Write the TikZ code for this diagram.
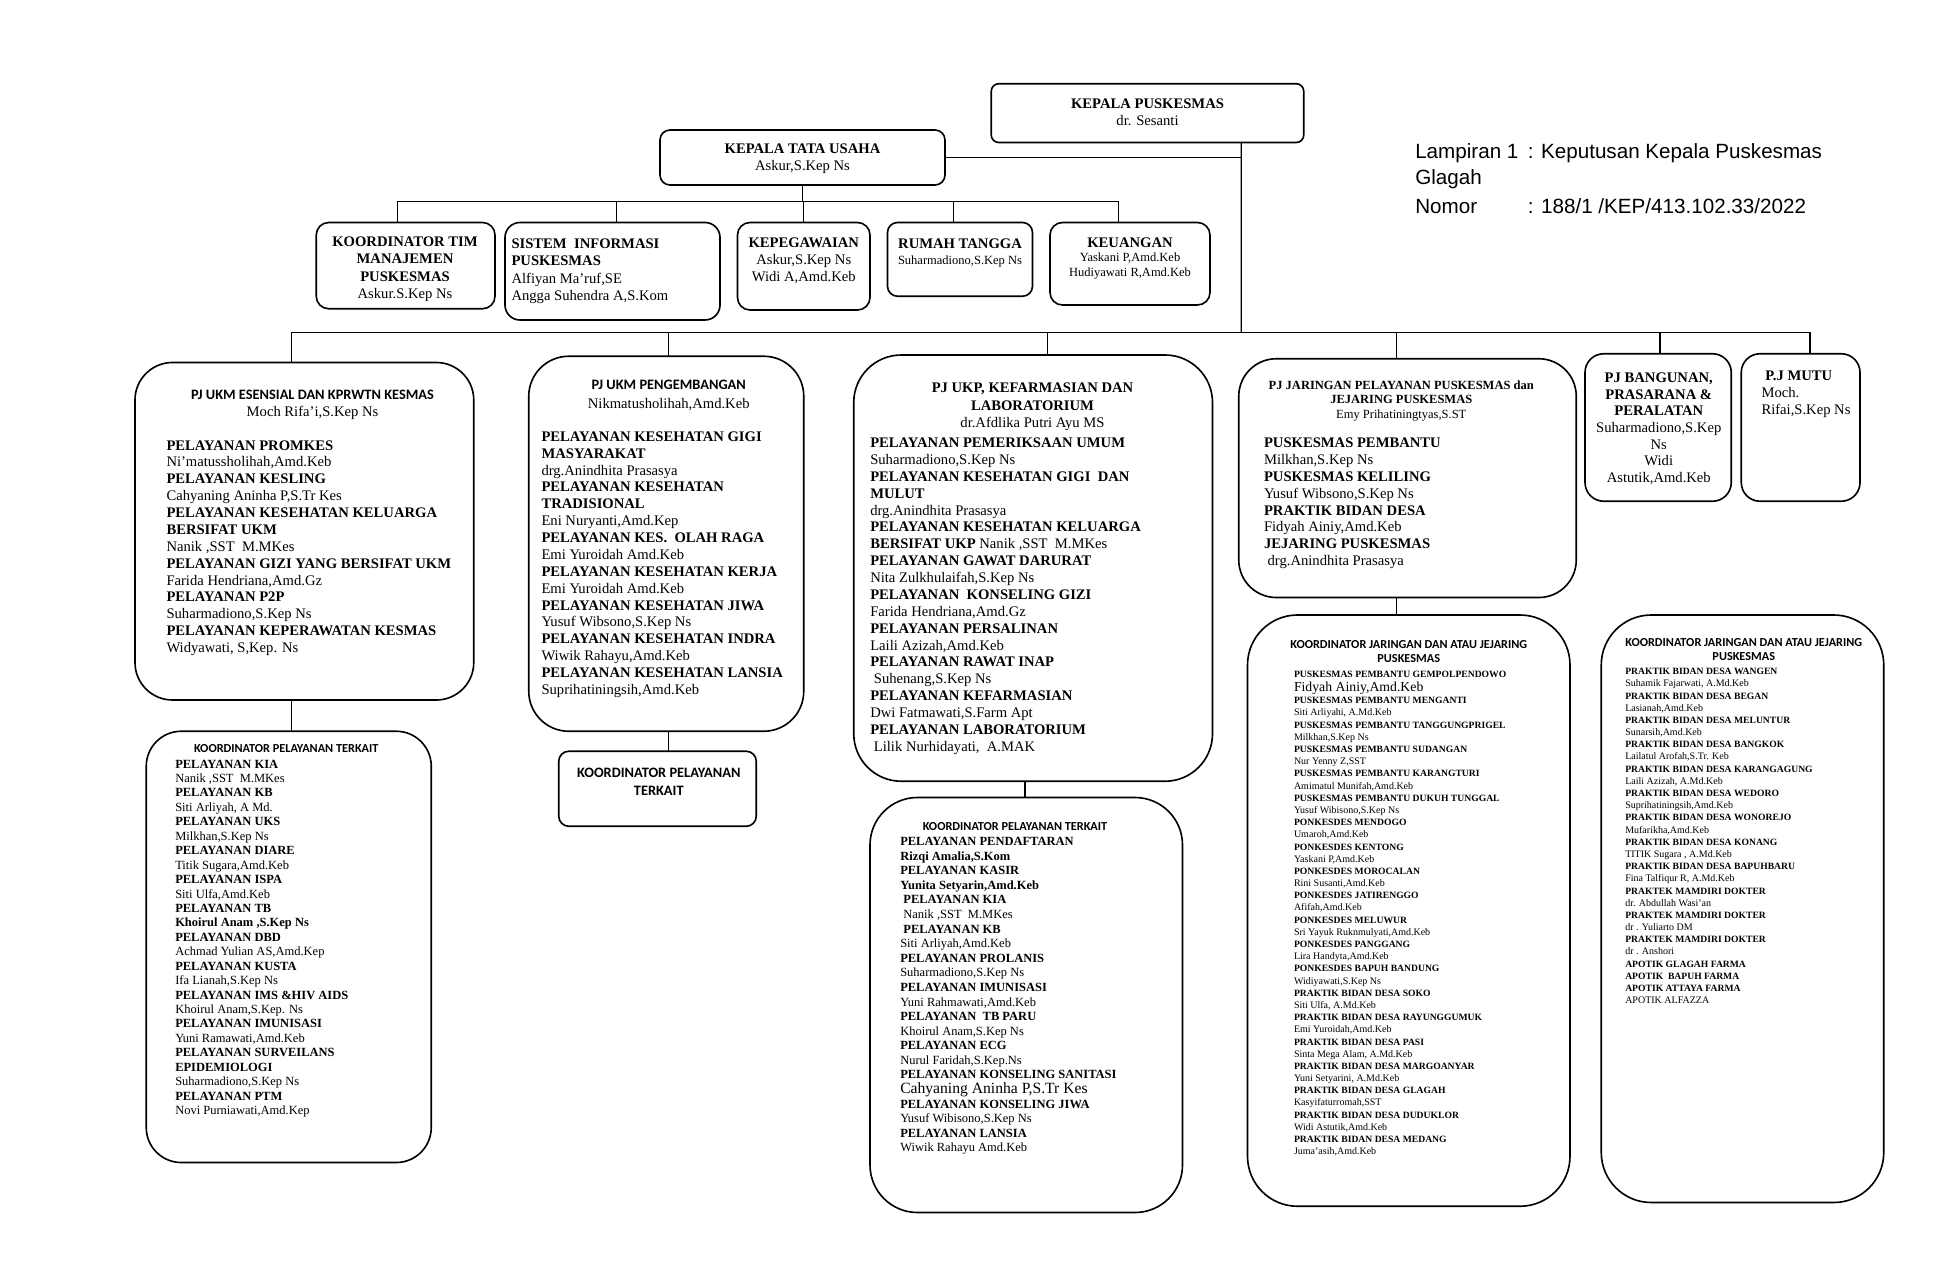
\documentclass[tikz,border=0pt]{standalone}
\usepackage{fontspec}
\setmainfont{Liberation Serif}
\newfontfamily\carlfont{Carlito}
\newfontfamily\lsansfont{Liberation Sans}
\usetikzlibrary{calc}
\newcommand{\hb}[1]{\textbf{#1}}
\newcommand{\sbf}[1]{{\fontsize{7.7}{9.75}\selectfont\bfseries #1}}
\begin{document}
\begin{tikzpicture}[x=1pt,y=-1pt,
 box/.style={draw, line width=1.3pt, rounded corners=#1, anchor=north west, inner sep=0pt, outer sep=0pt},
 box/.default=8pt,
 ln/.style={line width=1pt},
 txl/.style={inner sep=0pt, anchor=north west, align=left},
 txc/.style={inner sep=0pt, anchor=north, align=center},
 fbig/.style={font=\fontsize{11.7}{13.5}\selectfont},
 fmid/.style={font=\fontsize{10}{11.6}\selectfont},
 fsml/.style={font=\fontsize{8}{9.75}\selectfont},
 hdr/.style={inner sep=0pt, anchor=center, align=center, font=\carlfont\bfseries\fontsize{#1}{13}\selectfont},
 lamp/.style={inner sep=0pt, anchor=base west, font=\lsansfont\fontsize{16.5}{20}\selectfont}
]
\fill[white] (0,0) rectangle (1560,1016);
\useasboundingbox (0,0) rectangle (1560,1016);

% ---------- boxes ----------
\node[box=6pt, minimum width=250pt, minimum height=47pt] (KP) at (793,67) {};
\node[box=8pt, minimum width=228pt, minimum height=44pt] (KTU) at (528,104) {};
\node[box=10pt, minimum width=143pt, minimum height=69pt] (KT) at (253,178) {};
\node[box=12pt, minimum width=172pt, minimum height=78pt] (SI) at (404,178) {};
\node[box=10pt, minimum width=106pt, minimum height=70pt] (KPG) at (590,178) {};
\node[box=8pt, minimum width=116pt, minimum height=59pt] (RT) at (710,178) {};
\node[box=10pt, minimum width=128pt, minimum height=66pt] (KEU) at (840,178) {};

\node[box=30pt, minimum width=271pt, minimum height=270pt] (A) at (108,290) {};
\node[box=28pt, minimum width=228pt, minimum height=345pt] (A2) at (117,585) {};
\node[box=32pt, minimum width=220pt, minimum height=300pt] (B) at (423,285) {};
\node[box=8pt, minimum width=158pt, minimum height=60pt] (B2) at (447,601) {};
\node[box=38pt, minimum width=287pt, minimum height=341pt] (C) at (683,284) {};
\node[box=38pt, minimum width=250pt, minimum height=332pt] (C2) at (696,638) {};
\node[box=30pt, minimum width=270pt, minimum height=191pt] (D) at (991,287) {};
\node[box=40pt, minimum width=258pt, minimum height=473pt] (D2) at (998,492) {};
\node[box=15pt, minimum width=117pt, minimum height=118pt] (E) at (1268,283) {};
\node[box=15pt, minimum width=95pt, minimum height=118pt] (F) at (1393,283) {};
\node[box=40pt, minimum width=226pt, minimum height=470pt] (G) at (1281,492) {};

% ---------- connectors ----------
\coordinate (tr) at ($(KP.south west)!0.8!(KP.south east)$);
\coordinate (mb) at (993,266);
\draw[ln] (tr) -- (mb);
\draw[ln] (KTU.east) -- (KTU.east -| tr);
\coordinate (sb) at (642,161);
\draw[ln] (KTU.south) -- (sb);
\coordinate (dKT) at (318,161);
\coordinate (dSI) at (493,161);
\coordinate (dKPG) at (643,161);
\coordinate (dRT) at (763,161);
\coordinate (dKEU) at (895,161);
\draw[ln] (dKT) -- (dKEU);
\draw[ln] (dKT) -- (dKT |- KT.north);
\draw[ln] (dSI) -- (dSI |- SI.north);
\draw[ln] (dKPG) -- (dKPG |- KPG.north);
\draw[ln] (dRT) -- (dRT |- RT.north);
\draw[ln] (dKEU) -- (dKEU |- KEU.north);

\coordinate (dA) at (233,266);
\coordinate (dB) at (535,266);
\coordinate (dC) at (838,266);
\coordinate (dD) at (1117,266);
\coordinate (dE) at (1328,266);
\coordinate (dF) at (1448,266);
\draw[ln] (dA) -- (dF);
\draw[ln] (dA) -- (dA |- A.north);
\draw[ln] (dB) -- (dB |- B.north);
\draw[ln] (dC) -- (dC |- C.north);
\draw[ln] (dD) -- (dD |- D.north);
\draw[ln] (dE) -- (dE |- E.north);
\draw[ln] (dF) -- (dF |- F.north);
\draw[ln] (dA |- A.south) -- (dA |- A2.north);
\draw[ln] (dB |- B.south) -- (dB |- B2.north);
\coordinate (dC2) at (820,625);
\draw[ln] (dC2) -- (dC2 |- C2.north);
\draw[ln] (dD |- D.south) -- (dD |- D2.north);

% ---------- top texts ----------
\node[txc, font=\fontsize{11.7}{13}\selectfont] (tKP) at (918,77.8) {\strut\hb{KEPALA PUSKESMAS}\\dr. Sesanti};
\node[txc, font=\fontsize{11.7}{13}\selectfont] (tKTU) at (642,113.8) {\strut\hb{KEPALA TATA USAHA}\\Askur,S.Kep Ns};
\node[txc, font=\fontsize{11.7}{14}\selectfont] (tKT) at (324,187.1) {\strut\hb{KOORDINATOR TIM}\\\hb{MANAJEMEN}\\\hb{PUSKESMAS}\\Askur.S.Kep Ns};
\node[txl, font=\fontsize{11.7}{13.7}\selectfont] (tSI) at (409,189.3) {\strut\hb{SISTEM\ \ INFORMASI}\\\hb{PUSKESMAS}\\Alfiyan Ma’ruf,SE\\Angga Suhendra A,S.Kom};
\node[txc, fbig] (tKPG) at (643,188.3) {\strut\hb{KEPEGAWAIAN}\\Askur,S.Kep Ns\\Widi A,Amd.Keb};
\node[txc, fbig] (tRT) at (768,189.4) {\strut\hb{RUMAH TANGGA}};
\node[txc, font=\fontsize{10}{12}\selectfont] (tRT2) at (768,202.9) {\strut Suharmadiono,S.Kep Ns};
\node[txc, fbig] (tKEU) at (904,188.4) {\strut\hb{KEUANGAN}};
\node[txc, font=\fontsize{10}{12}\selectfont] (tKEU2) at (904,200.9) {\strut Yaskani P,Amd.Keb\\Hudiyawati R,Amd.Keb};

\node[lamp] (L1) at (1132,126.9) {Lampiran 1};
\node[lamp] (L1b) at (1222,126.9) {: Keputusan Kepala Puskesmas};
\node[lamp] (L2) at (1132,147.9) {Glagah};
\node[lamp] (L3) at (1132,170.9) {Nomor};
\node[lamp] (L3b) at (1222,170.9) {: 188/1 /KEP/413.102.33/2022};

% ---------- box A ----------
\node[hdr=11.5] (hA) at (250,316) {PJ UKM ESENSIAL DAN KPRWTN KESMAS};
\node[txc, fbig] (nA) at (250,323.4) {\strut Moch Rifa’i,S.Kep Ns};
\node[txl, fbig] (lA) at (133,350.4) {\strut\hb{PELAYANAN PROMKES}\\
Ni’matussholihah,Amd.Keb\\
\hb{PELAYANAN KESLING}\\
Cahyaning Aninha P,S.Tr Kes\\
\hb{PELAYANAN KESEHATAN KELUARGA}\\
\hb{BERSIFAT UKM}\\
Nanik ,SST\ \ M.MKes\\
\hb{PELAYANAN GIZI YANG BERSIFAT UKM}\\
Farida Hendriana,Amd.Gz\\
\hb{PELAYANAN P2P}\\
Suharmadiono,S.Kep Ns\\
\hb{PELAYANAN KEPERAWATAN KESMAS}\\
Widyawati, S,Kep. Ns};

% ---------- box A2 ----------
\node[hdr=9.8] (hA2) at (229,599) {KOORDINATOR PELAYANAN TERKAIT};
\node[txl, font=\fontsize{10}{11.55}\selectfont] (lA2) at (140,606.2) {\strut\hb{PELAYANAN KIA}\\
Nanik ,SST\ \ M.MKes\\
\hb{PELAYANAN KB}\\
Siti Arliyah, A Md.\\
\hb{PELAYANAN UKS}\\
Milkhan,S.Kep Ns\\
\hb{PELAYANAN DIARE}\\
Titik Sugara,Amd.Keb\\
\hb{PELAYANAN ISPA}\\
Siti Ulfa,Amd.Keb\\
\hb{PELAYANAN TB}\\
\hb{Khoirul Anam ,S.Kep Ns}\\
\hb{PELAYANAN DBD}\\
Achmad Yulian AS,Amd.Kep\\
\hb{PELAYANAN KUSTA}\\
Ifa Lianah,S.Kep Ns\\
\hb{PELAYANAN IMS \&HIV AIDS}\\
Khoirul Anam,S.Kep. Ns\\
\hb{PELAYANAN IMUNISASI}\\
Yuni Ramawati,Amd.Keb\\
\hb{PELAYANAN SURVEILANS}\\
\hb{EPIDEMIOLOGI}\\
Suharmadiono,S.Kep Ns\\
\hb{PELAYANAN PTM}\\
Novi Purniawati,Amd.Kep};

% ---------- box B ----------
\node[hdr=11.5] (hB) at (535,308) {PJ UKM PENGEMBANGAN};
\node[txc, fbig] (nB) at (535,317.4) {\strut Nikmatusholihah,Amd.Keb};
\node[txl, fbig] (lB) at (433,343.4) {\strut\hb{PELAYANAN KESEHATAN GIGI}\\
\hb{MASYARAKAT}\\
drg.Anindhita Prasasya\\
\hb{PELAYANAN KESEHATAN}\\
\hb{TRADISIONAL}\\
Eni Nuryanti,Amd.Kep\\
\hb{PELAYANAN KES.\ \ OLAH RAGA}\\
Emi Yuroidah Amd.Keb\\
\hb{PELAYANAN KESEHATAN KERJA}\\
Emi Yuroidah Amd.Keb\\
\hb{PELAYANAN KESEHATAN JIWA}\\
Yusuf Wibsono,S.Kep Ns\\
\hb{PELAYANAN KESEHATAN INDRA}\\
Wiwik Rahayu,Amd.Keb\\
\hb{PELAYANAN KESEHATAN LANSIA}\\
Suprihatiningsih,Amd.Keb};
\node[inner sep=0pt, align=center, font=\carlfont\bfseries\fontsize{11.5}{15}\selectfont] (hB2) at (527,625.5) {KOORDINATOR PELAYANAN\\TERKAIT};

% ---------- box C ----------
\node[txc, font=\fontsize{11.7}{14}\selectfont] (hC) at (826,304.1) {\strut\hb{PJ UKP, KEFARMASIAN DAN}\\\hb{LABORATORIUM}\\dr.Afdlika Putri Ayu MS};
\node[txl, fbig] (lC) at (696,348.4) {\strut\hb{PELAYANAN PEMERIKSAAN UMUM}\\
Suharmadiono,S.Kep Ns\\
\hb{PELAYANAN KESEHATAN GIGI\ \ DAN}\\
\hb{MULUT}\\
drg.Anindhita Prasasya\\
\hb{PELAYANAN KESEHATAN KELUARGA}\\
\hb{BERSIFAT UKP} Nanik ,SST\ \ M.MKes\\
\hb{PELAYANAN GAWAT DARURAT}\\
Nita Zulkhulaifah,S.Kep Ns\\
\hb{PELAYANAN\ \ KONSELING GIZI}\\
Farida Hendriana,Amd.Gz\\
\hb{PELAYANAN PERSALINAN}\\
Laili Azizah,Amd.Keb\\
\hb{PELAYANAN RAWAT INAP}\\
\ Suhenang,S.Kep Ns\\
\hb{PELAYANAN KEFARMASIAN}\\
Dwi Fatmawati,S.Farm Apt\\
\hb{PELAYANAN LABORATORIUM}\\
\ Lilik Nurhidayati,\ \ A.MAK};

% ---------- box C2 ----------
\node[hdr=9.8] (hC2) at (812,661) {KOORDINATOR PELAYANAN TERKAIT};
\node[txl, font=\fontsize{10}{11.67}\selectfont] (lC2) at (720,668.1) {\strut\hb{PELAYANAN PENDAFTARAN}\\
\hb{Rizqi Amalia,S.Kom}\\
\hb{PELAYANAN KASIR}\\
\hb{Yunita Setyarin,Amd.Keb}\\
\ \hb{PELAYANAN KIA}\\
\ Nanik ,SST\ \ M.MKes\\
\ \hb{PELAYANAN KB}\\
Siti Arliyah,Amd.Keb\\
\hb{PELAYANAN PROLANIS}\\
Suharmadiono,S.Kep Ns\\
\hb{PELAYANAN IMUNISASI}\\
Yuni Rahmawati,Amd.Keb\\
\hb{PELAYANAN\ \ TB PARU}\\
Khoirul Anam,S.Kep Ns\\
\hb{PELAYANAN ECG}\\
Nurul Faridah,S.Kep.Ns\\
\hb{PELAYANAN KONSELING SANITASI}\\
{\fontsize{12.5}{11.67}\selectfont Cahyaning Aninha P,S.Tr Kes}\\
\hb{PELAYANAN KONSELING JIWA}\\
Yusuf Wibisono,S.Kep Ns\\
\hb{PELAYANAN LANSIA}\\
Wiwik Rahayu Amd.Keb};

% ---------- box D ----------
\node[txc, font=\fontsize{10}{11.7}\selectfont] (hD) at (1121,303.1) {\strut\hb{PJ JARINGAN PELAYANAN PUSKESMAS dan}\\\hb{JEJARING PUSKESMAS}\\Emy Prihatiningtyas,S.ST};
\node[txl, fbig] (lD) at (1011,348.4) {\strut\hb{PUSKESMAS PEMBANTU}\\
Milkhan,S.Kep Ns\\
\hb{PUSKESMAS KELILING}\\
Yusuf Wibsono,S.Kep Ns\\
\hb{PRAKTIK BIDAN DESA}\\
Fidyah Ainiy,Amd.Keb\\
\hb{JEJARING PUSKESMAS}\\
\ drg.Anindhita Prasasya};

% ---------- box D2 ----------
\node[inner sep=0pt, align=center, font=\carlfont\bfseries\fontsize{9.8}{11}\selectfont] (hD2) at (1127,521.5) {KOORDINATOR JARINGAN DAN ATAU JEJARING\\PUSKESMAS};
\node[txl, fsml] (lD2) at (1035,534.7) {\strut\sbf{PUSKESMAS PEMBANTU GEMPOLPENDOWO}\\
{\fontsize{11}{9.75}\selectfont Fidyah Ainiy,Amd.Keb}\\
\sbf{PUSKESMAS PEMBANTU MENGANTI}\\
Siti Arliyahi, A.Md.Keb\\
\sbf{PUSKESMAS PEMBANTU TANGGUNGPRIGEL}\\
Milkhan,S.Kep Ns\\
\sbf{PUSKESMAS PEMBANTU SUDANGAN}\\
Nur Yenny Z,SST\\
\sbf{PUSKESMAS PEMBANTU KARANGTURI}\\
Amimatul Munifah,Amd.Keb\\
\sbf{PUSKESMAS PEMBANTU DUKUH TUNGGAL}\\
Yusuf Wibisono,S.Kep Ns\\
\sbf{PONKESDES MENDOGO}\\
Umaroh,Amd.Keb\\
\sbf{PONKESDES KENTONG}\\
Yaskani P,Amd.Keb\\
\sbf{PONKESDES MOROCALAN}\\
Rini Susanti,Amd.Keb\\
\sbf{PONKESDES JATIRENGGO}\\
Afifah,Amd.Keb\\
\sbf{PONKESDES MELUWUR}\\
Sri Yayuk Ruknmulyati,Amd.Keb\\
\sbf{PONKESDES PANGGANG}\\
Lira Handyta,Amd.Keb\\
\sbf{PONKESDES BAPUH BANDUNG}\\
Widiyawati,S.Kep Ns\\
\sbf{PRAKTIK BIDAN DESA SOKO}\\
Siti Ulfa, A.Md.Keb\\
\sbf{PRAKTIK BIDAN DESA RAYUNGGUMUK}\\
Emi Yuroidah,Amd.Keb\\
\sbf{PRAKTIK BIDAN DESA PASI}\\
Sinta Mega Alam, A.Md.Keb\\
\sbf{PRAKTIK BIDAN DESA MARGOANYAR}\\
Yuni Setyarini, A.Md.Keb\\
\sbf{PRAKTIK BIDAN DESA GLAGAH}\\
Kasyifaturromah,SST\\
\sbf{PRAKTIK BIDAN DESA DUDUKLOR}\\
Widi Astutik,Amd.Keb\\
\sbf{PRAKTIK BIDAN DESA MEDANG}\\
Juma’asih,Amd.Keb};

% ---------- boxes E, F ----------
\node[txc, font=\fontsize{11.7}{13.3}\selectfont] (tE) at (1327,296.6) {\strut\hb{PJ BANGUNAN,}\\\hb{PRASARANA \&}\\\hb{PERALATAN}\\Suharmadiono,S.Kep\\Ns\\Widi\\Astutik,Amd.Keb};
\node[txc, fbig] (tF) at (1439,294.4) {\strut\hb{P.J MUTU}};
\node[txl, fbig] (tF2) at (1409,308.4) {\strut Moch.\\Rifai,S.Kep Ns};

% ---------- box G ----------
\node[inner sep=0pt, align=center, font=\carlfont\bfseries\fontsize{9.8}{11}\selectfont] (hG) at (1395,519.5) {KOORDINATOR JARINGAN DAN ATAU JEJARING\\PUSKESMAS};
\node[txl, fsml] (lG) at (1300,532.7) {\strut\sbf{PRAKTIK BIDAN DESA WANGEN}\\
Suhamik Fajarwati, A.Md.Keb\\
\sbf{PRAKTIK BIDAN DESA BEGAN}\\
Lasianah,Amd.Keb\\
\sbf{PRAKTIK BIDAN DESA MELUNTUR}\\
Sunarsih,Amd.Keb\\
\sbf{PRAKTIK BIDAN DESA BANGKOK}\\
Lailatul Arofah,S.Tr. Keb\\
\sbf{PRAKTIK BIDAN DESA KARANGAGUNG}\\
Laili Azizah, A.Md.Keb\\
\sbf{PRAKTIK BIDAN DESA WEDORO}\\
Suprihatiningsih,Amd.Keb\\
\sbf{PRAKTIK BIDAN DESA WONOREJO}\\
Mufarikha,Amd.Keb\\
\sbf{PRAKTIK BIDAN DESA KONANG}\\
TITIK Sugara , A.Md.Keb\\
\sbf{PRAKTIK BIDAN DESA BAPUHBARU}\\
Fina Talfiqur R, A.Md.Keb\\
\sbf{PRAKTEK MAMDIRI DOKTER}\\
dr. Abdullah Wasi’an\\
\sbf{PRAKTEK MAMDIRI DOKTER}\\
dr . Yuliarto DM\\
\sbf{PRAKTEK MAMDIRI DOKTER}\\
dr . Anshori\\
\sbf{APOTIK GLAGAH FARMA}\\
\sbf{APOTIK\ \ BAPUH FARMA}\\
\sbf{APOTIK ATTAYA FARMA}\\
APOTIK ALFAZZA};
\end{tikzpicture}
\end{document}
